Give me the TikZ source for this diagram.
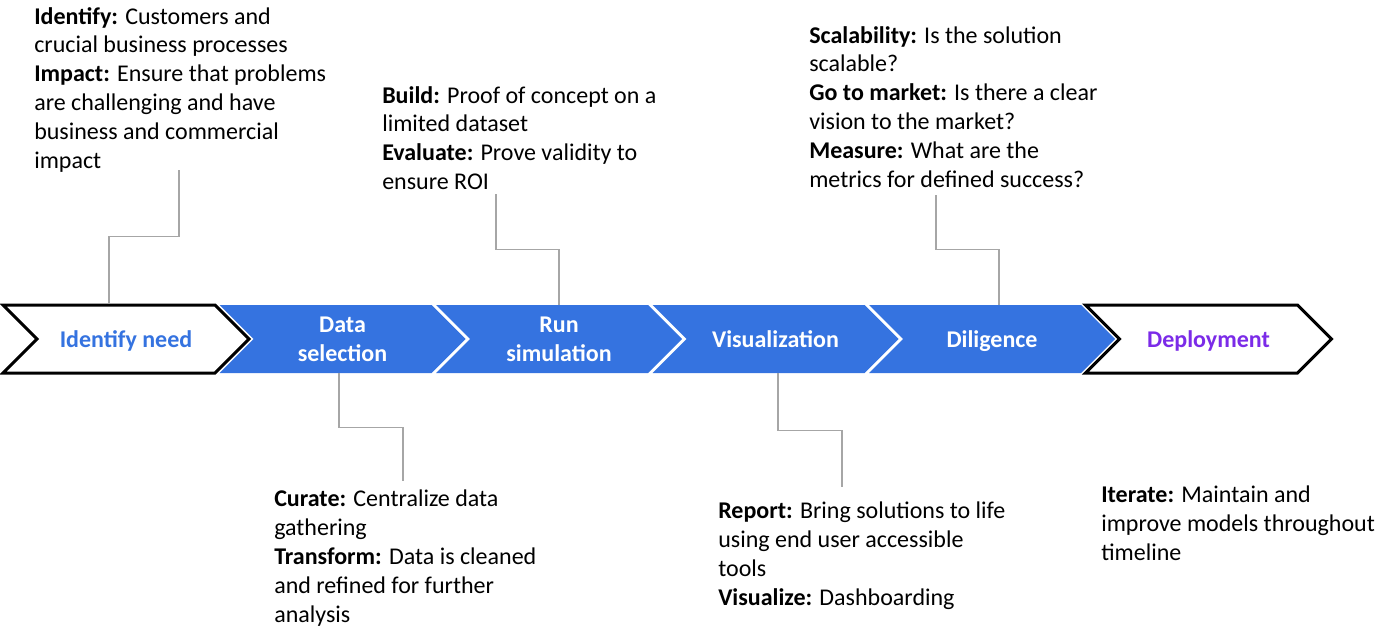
\documentclass[tikz,border=0pt]{standalone}
\usepackage{fontspec}
\setmainfont{Carlito}
\usetikzlibrary{shapes.symbols,calc}
\definecolor{chevblue}{HTML}{3573E0}
\definecolor{deppurple}{HTML}{7B2BE8}
\definecolor{linkgray}{HTML}{A6A6A6}
\newcommand{\notesize}{\fontsize{18}{21.6}\selectfont}
\tikzset{
  chev/.style={shape=signal, signal to=east, signal from=west,
    minimum width=184.5pt, minimum height=51pt, inner sep=0pt,
    align=center, font=\notesize\bfseries},
  fullchev/.style={chev, fill=chevblue, text=white},
  openchev/.style={chev, draw=black, line width=2.25pt, fill=white},
  note/.style={anchor=north west, align=left, inner sep=0pt, font=\notesize},
  link/.style={draw=linkgray, line width=0.9pt},
  elbow/.style={to path={|- ($(\tikztostart)!.5!(\tikztotarget)$) -| (\tikztotarget)}}
}
\begin{document}
\begin{tikzpicture}[x=0.75pt,y=-0.75pt]
  \useasboundingbox (0,0) rectangle (1383,631);
  % the six steps
  \node[openchev, text=chevblue, text depth=0pt] (need) at (126,339) {Identify need};
  \node[fullchev] (datasel) at (342.5,339) {Data\\selection};
  \node[fullchev] (runsim) at (559,339) {Run\\simulation};
  \node[fullchev] (visual) at (775.5,339) {Visualization};
  \node[fullchev, text depth=0pt] (dilig) at (992,339) {Diligence};
  \node[openchev, text=deppurple, text depth=0pt] (deploy) at (1208.5,339) {Deployment};
  % notes above
  \node[note] (idnote) at (34,7) {\textbf{Identify:} Customers and\\crucial business processes\\\textbf{Impact:} Ensure that problems\\are challenging and have\\business and commercial\\impact};
  \node[note] (buildnote) at (382,86) {\textbf{Build:} Proof of concept on a\\limited dataset\\\textbf{Evaluate:} Prove validity to\\ensure ROI};
  \node[note] (scalenote) at (809,26) {\textbf{Scalability:} Is the solution\\scalable?\\\textbf{Go to market:} Is there a clear\\vision to the market?\\\textbf{Measure:} What are the\\metrics for defined success?};
  % notes below
  \node[note] (curatenote) at (274,490) {\textbf{Curate:} Centralize data\\gathering\\\textbf{Transform:} Data is cleaned\\and refined for further\\analysis};
  \node[note] (reportnote) at (718,502) {\textbf{Report:} Bring solutions to life\\using end user accessible\\tools\\\textbf{Visualize:} Dashboarding};
  \node[note] (iternote) at (1101,486) {\textbf{Iterate:} Maintain and\\improve models throughout\\timeline};
  % leader lines
  \coordinate (idend) at (179,170);
  \coordinate (buildend) at (496,194);
  \coordinate (scaleend) at (936,195);
  \coordinate (curateend) at (403,481);
  \coordinate (reportend) at (842,487);
  \draw[link] (idend) to[elbow] ([xshift=-12.75pt]need.north);
  \draw[link] (buildend) to[elbow] (runsim.north);
  \draw[link] (scaleend) to[elbow] ([xshift=5.25pt]dilig.north);
  \draw[link] ([xshift=-2.6pt]datasel.south) to[elbow] (curateend);
  \draw[link] ([xshift=1.9pt]visual.south) to[elbow] (reportend);
\end{tikzpicture}
\end{document}
